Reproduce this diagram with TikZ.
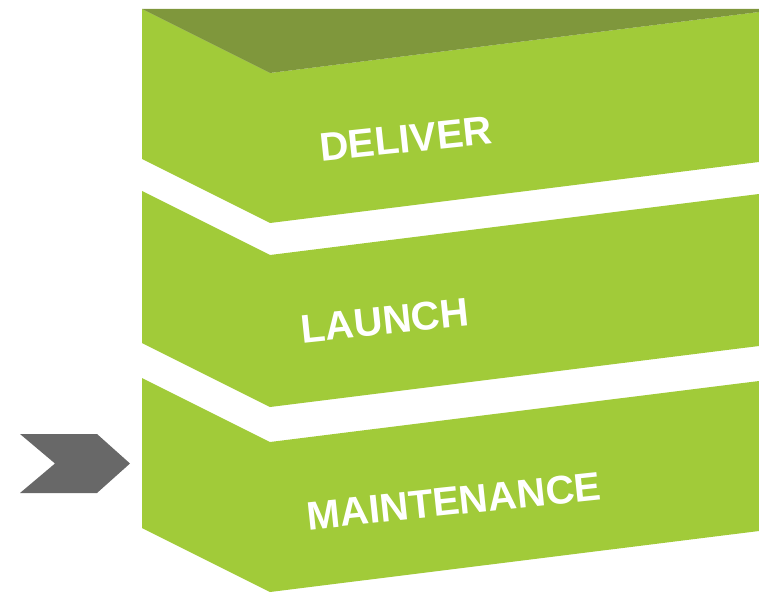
\documentclass[tikz,border=0pt]{standalone}
\usepackage{fontspec}
\newfontfamily\labelfont{Liberation Sans}
\definecolor{stackgreen}{RGB}{161,203,57}
\definecolor{lidgreen}{RGB}{127,151,60}
\definecolor{chevgray}{RGB}{104,104,104}
\tikzset{
  slab/.style={fill=stackgreen, draw=none},
  lid/.style={fill=lidgreen, draw=none},
  chevron/.style={fill=chevgray, draw=none},
  slablabel/.style={text=white, font=\labelfont\bfseries\fontsize{40}{48}\selectfont,
    inner sep=0pt, rotate=6}
}
\begin{document}
\begin{tikzpicture}[x=1pt, y=-1pt]
  \useasboundingbox (0,0) rectangle (759,593);
  % three stacked slabs, each a left face and a right face meeting at x=270
  \fill[slab] (142,9) -- (270,73) -- (759,12) -- (759,162) -- (270,223) -- (142,159) -- cycle;
  \fill[slab] (142,191) -- (270,255) -- (759,194) -- (759,346) -- (270,407) -- (142,343) -- cycle;
  \fill[slab] (142,378) -- (270,442) -- (759,381) -- (759,531) -- (270,592) -- (142,528) -- cycle;
  % darker top face of the upper slab
  \fill[lid] (142,9) -- (270,73) -- (759,12) -- (759,9) -- cycle;
  % labels
  \node[slablabel] (deliver) at (406,139) {DELIVER};
  \node[slablabel] (launch) at (385,321) {LAUNCH};
  \node[slablabel] (maint) at (454,501) {MAINTENANCE};
  % pointer at the bottom slab
  \fill[chevron] (20,434) -- (97,434) -- (130,463.5) -- (97,493) -- (20,493) -- (55,463.5) -- cycle;
\end{tikzpicture}
\end{document}
